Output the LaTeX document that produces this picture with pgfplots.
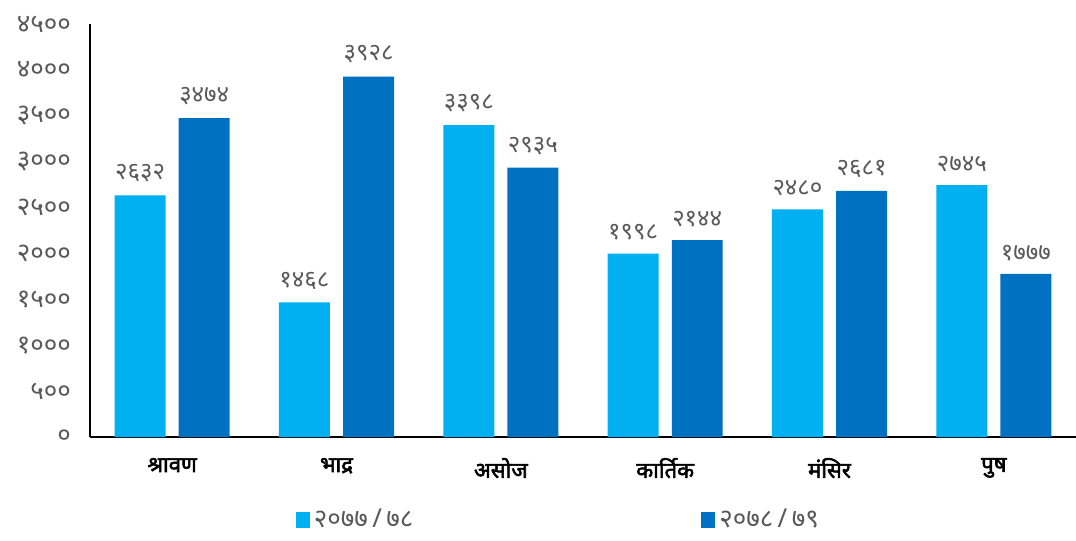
\documentclass[border=0pt]{standalone}
\usepackage{pgfplots}
\pgfplotsset{compat=1.18}
\usepackage{pgfplotstable}
\usepackage{fontspec}
\usetikzlibrary{calc}
\newfontfamily\devfont[Script=Devanagari]{Noto Sans}
\newfontfamily\devbold[Script=Devanagari, FakeBold=2.5]{Noto Sans}
\definecolor{lblue}{HTML}{00B0F0}
\definecolor{dblue}{HTML}{0070C0}
\definecolor{tgrey}{HTML}{595959}
\pgfplotstableread{
x y label
0 2632 २६३२
1 1468 १४६८
2 3398 ३३९८
3 1998 १९९८
4 2480 २४८०
5 2745 २७४५
}\tA
\pgfplotstableread{
x y label
0 3474 ३४७४
1 3928 ३९२८
2 2935 २९३५
3 2144 २१४४
4 2681 २६८१
5 1777 १७७७
}\tB
\begin{document}
\begin{tikzpicture}
\begin{axis}[
  name=ax,
  scale only axis,
  width=493pt, height=206.5pt,
  xmin=-0.5, xmax=5.5,
  ymin=0, ymax=4500,
  axis lines=left,
  axis line style={-, line width=1pt, black},
  major tick length=0pt,
  ytick={0,500,1000,1500,2000,2500,3000,3500,4000,4500},
  yticklabels={०,५००,१०००,१५००,२०००,२५००,३०००,३५००,४०००,४५००},
  yticklabel style={font=\devfont\fontsize{13}{14}\selectfont, text=tgrey, xshift=-6pt},
  xtick={0,1,2,3,4,5},
  xticklabels={श्रावण,भाद्र,असोज,कार्तिक,मंसिर,पुष},
  xticklabel style={font=\devbold\fontsize{11}{12}\selectfont, text=black, yshift=-7pt},
  ybar, bar width=0.31,
  point meta=explicit symbolic,
  nodes near coords,
  nodes near coords style={font=\devfont\fontsize{12}{13}\selectfont, text=tgrey, anchor=south, yshift=3pt},
  legend columns=2,
  legend style={at={(0.476,-0.2)}, anchor=center, draw=none,
    font=\devfont\fontsize{13}{14}\selectfont, text=tgrey,
    /tikz/column 2/.style={column sep=142pt}},
  legend image code/.code={\fill[#1] (0pt,-4pt) rectangle (7pt,4pt);},
]
\addplot[fill=lblue, draw=none, bar shift=-0.195] table[x=x, y=y, meta=label] {\tA};
\addlegendentry{२०७७\,/\,७८}
\addplot[fill=dblue, draw=none, bar shift=0.195] table[x=x, y=y, meta=label] {\tB};
\addlegendentry{२०७८\,/\,७९}
\end{axis}
\pgfresetboundingbox
\path ($(ax.south west)+(-45pt,-51.5pt)$) rectangle ($(ax.north east)+(0pt,12pt)$);
\end{tikzpicture}
\end{document}
